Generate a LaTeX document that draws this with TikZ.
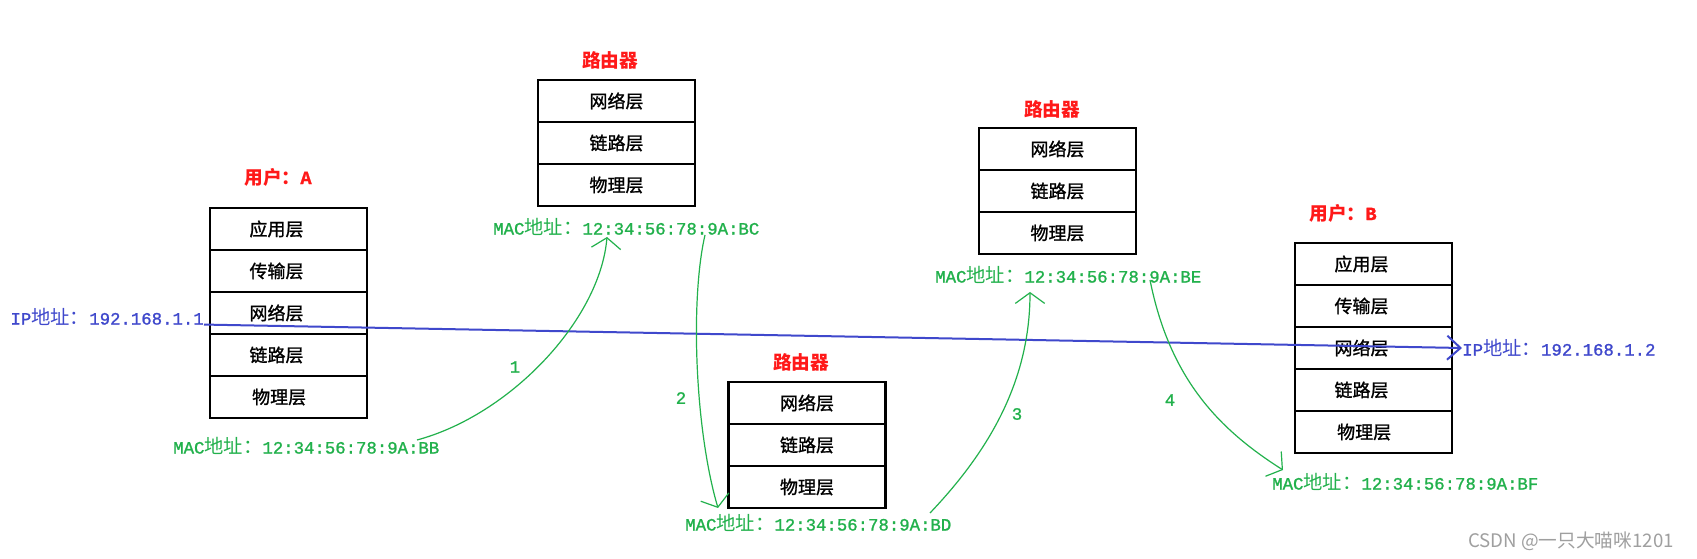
\documentclass[tikz,border=0pt]{standalone}
\usepackage{fontspec}
\usepackage{tikz}
\usetikzlibrary{arrows.meta}
\setmainfont{Liberation Mono}[FakeBold=1.2]
\newfontfamily\cjk{Noto Sans CJK SC}
\newfontfamily\cjklayer{Noto Sans CJK SC}[FakeBold=1.2]
\newcommand{\addrcn}{{\cjk\fontsize{14.5}{17}\selectfont 地址：}}
\definecolor{paintgreen}{RGB}{34,177,76}
\definecolor{paintblue}{RGB}{63,72,204}
\definecolor{titlered}{RGB}{255,25,25}

\begin{document}
\begin{tikzpicture}[x=0.75pt,y=-0.75pt,
  layer/.style={draw,line width=2.2pt,minimum width=117.75pt,minimum height=31.5pt,inner sep=0pt,font=\cjklayer\fontsize{13.5}{16}\selectfont},
  title/.style={text=titlered,inner sep=0pt,font=\cjk\bfseries\fontsize{14}{17}\selectfont},
  mac/.style={text=paintgreen,anchor=west,inner sep=0pt,font=\fontsize{13}{16}\selectfont},
  ip/.style={text=paintblue,inner sep=0pt,font=\fontsize{13}{16}\selectfont},
  hop/.style={paintgreen,line width=0.9pt,-{Straight Barb[length=8pt,width=22pt]}},
  num/.style={text=paintgreen,inner sep=0pt,font=\fontsize{13}{16}\selectfont}]
\fill[white] (0,0) rectangle (1697,559);
\useasboundingbox (0,0) rectangle (1697,559);
\coordinate (s1) at (417,440);
\coordinate (t1) at (607,237);
\coordinate (s2) at (705,235);
\coordinate (t2) at (718,508);
\coordinate (s3) at (930,513);
\coordinate (t3) at (1030,292);
\coordinate (s4) at (1150,280);
\coordinate (t4) at (1283,470);
\node[title] (userA) at (278,177) {用户：{\rmfamily A}};
\node[layer] (a1) at (288.5,229) {\hspace*{-18pt}应用层};
\node[layer] (a2) at (288.5,271) {\hspace*{-18pt}传输层};
\node[layer] (a3) at (288.5,313) {\hspace*{-18pt}网络层};
\node[layer] (a4) at (288.5,355) {\hspace*{-18pt}链路层};
\node[layer] (a5) at (288.5,397) {\hspace*{-14pt}物理层};
\node[title] (router1) at (610,60) {路由器};
\node[layer] (r11) at (616.5,101) {网络层};
\node[layer] (r12) at (616.5,143) {链路层};
\node[layer] (r13) at (616.5,185) {物理层};
\node[title] (router2) at (801,362) {路由器};
\node[layer] (r21) at (807,403) {网络层};
\node[layer] (r22) at (807,445) {链路层};
\node[layer] (r23) at (807,487) {物理层};
\node[title] (router3) at (1052,109) {路由器};
\node[layer] (r31) at (1057.5,149) {网络层};
\node[layer] (r32) at (1057.5,191) {链路层};
\node[layer] (r33) at (1057.5,233) {物理层};
\node[title] (userB) at (1343,213) {用户：{\rmfamily B}};
\node[layer] (b1) at (1373.5,264) {\hspace*{-18pt}应用层};
\node[layer] (b2) at (1373.5,306) {\hspace*{-18pt}传输层};
\node[layer] (b3) at (1373.5,348) {\hspace*{-18pt}网络层};
\node[layer] (b4) at (1373.5,390) {\hspace*{-18pt}链路层};
\node[layer] (b5) at (1373.5,432) {\hspace*{-14pt}物理层};
\node[mac] (macA) at (173,446) {MAC\addrcn 12:34:56:78:9A:BB};
\node[mac] (macR1) at (493,227) {MAC\addrcn 12:34:56:78:9A:BC};
\node[mac] (macR2) at (685,523) {MAC\addrcn 12:34:56:78:9A:BD};
\node[mac] (macR3) at (935,275) {MAC\addrcn 12:34:56:78:9A:BE};
\node[mac] (macB) at (1272,482) {MAC\addrcn 12:34:56:78:9A:BF};
\node[ip,anchor=east] (ipA) at (204,317) {IP\addrcn 192.168.1.1};
\node[ip,anchor=west] (ipB) at (1462,348) {IP\addrcn 192.168.1.2};
\draw[paintblue,line width=1.5pt,-{Straight Barb[length=10pt,width=18pt]}] (ipA.base east) -- (ipB.west);
\draw[hop] (s1) .. controls (510,415) and (600,320) .. (t1);
\draw[hop] (s2) .. controls (690,300) and (695,430) .. (t2);
\draw[hop] (s3) .. controls (990,450) and (1030,380) .. (t3);
\draw[hop] (s4) .. controls (1170,380) and (1220,430) .. (t4);
\node[num] (n1) at (515,367) {1};
\node[num] (n2) at (681,398) {2};
\node[num] (n3) at (1017,414) {3};
\node[num] (n4) at (1170,400) {4};
\node[text=gray!75,inner sep=0pt,font=\cjk\fontsize{14}{16}\selectfont] (mark) at (1571,541) {CSDN @一只大喵咪1201};
\end{tikzpicture}
\end{document}
